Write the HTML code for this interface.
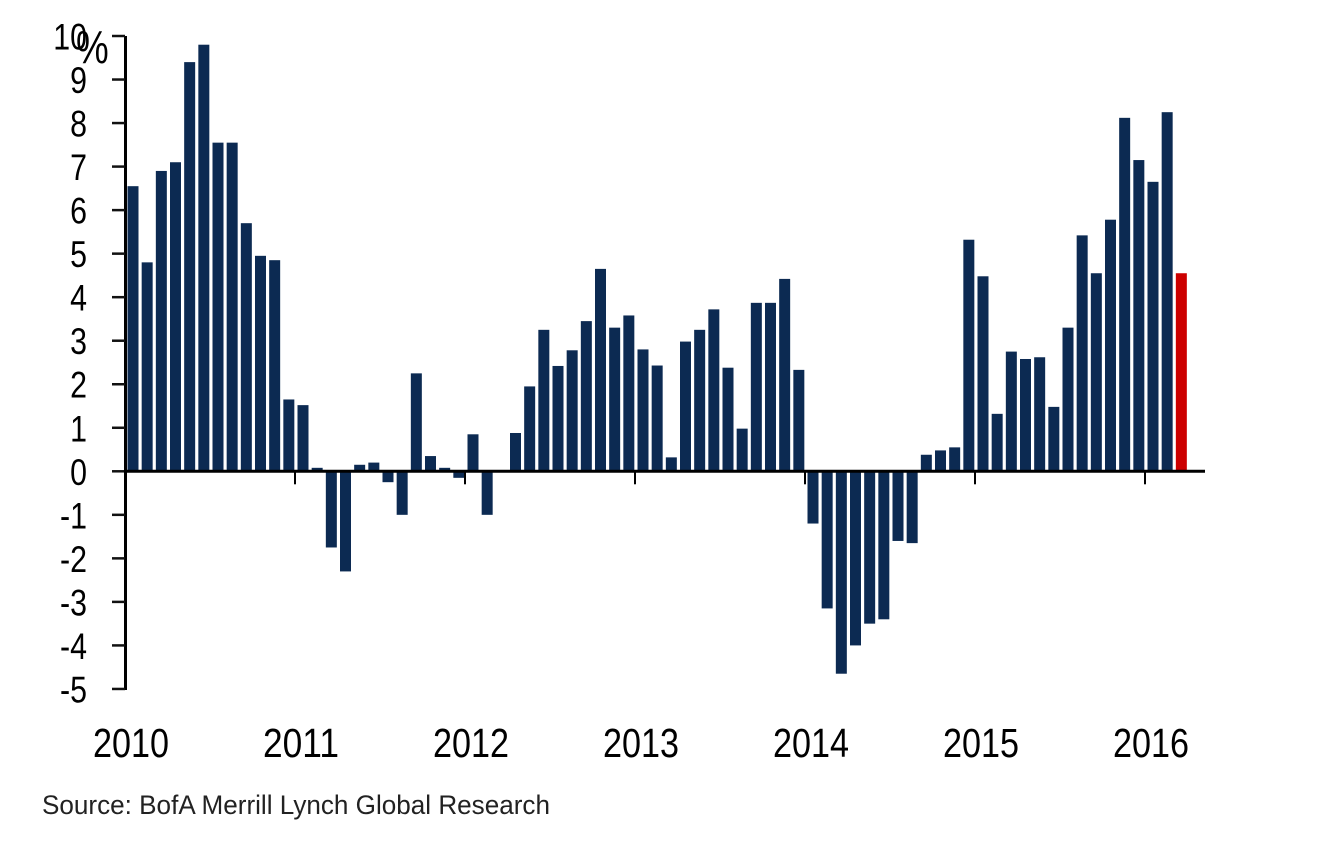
<!DOCTYPE html>
<html><head><meta charset="utf-8"><style>
html,body{margin:0;padding:0;background:#fff;width:1336px;height:848px;overflow:hidden}
svg text{font-family:"Liberation Sans",sans-serif}
</style></head><body>
<svg id="chart" width="1336" height="848">
<g id="bars"></g>
<g id="axes"></g>
<text x="42" y="814" font-size="27" fill="#222" textLength="508" lengthAdjust="spacingAndGlyphs">Source: BofA Merrill Lynch Global Research</text>
</svg>
<script>
const values=[6.55,4.8,6.9,7.1,9.4,9.8,7.55,7.55,5.7,4.95,4.85,1.65,
1.52,0.08,-1.75,-2.3,0.15,0.2,-0.25,-1.0,2.25,0.35,0.08,-0.15,
0.85,-1.0,0,0.88,1.95,3.25,2.42,2.78,3.45,4.65,3.3,3.58,
2.8,2.43,0.32,2.98,3.25,3.72,2.38,0.98,3.87,3.87,4.42,2.33,
-1.2,-3.15,-4.65,-4.0,-3.5,-3.4,-1.6,-1.65,0.38,0.48,0.55,5.32,
4.48,1.32,2.75,2.58,2.62,1.48,3.3,5.42,4.55,5.78,8.12,7.15,
6.65,8.25,4.55];
const yTicks=[10,9,8,7,6,5,4,3,2,1,0,-1,-2,-3,-4,-5];
const yearLabels=["2010","2011","2012","2013","2014","2015","2016"];
const NS="http://www.w3.org/2000/svg";
const y0=471.3, pxPerUnit=43.53, x0=126, pxPerMonth=170/12;
function yScale(v){return y0-v*pxPerUnit;}
function xScale(i){return x0+i*pxPerMonth;}
function mk(tag,attrs,parent){const e=document.createElementNS(NS,tag);for(const k in attrs)e.setAttribute(k,attrs[k]);parent.appendChild(e);return e;}
const bars=document.getElementById('bars'), axes=document.getElementById('axes');
values.forEach((v,i)=>{
  const top=Math.min(yScale(v),y0), h=Math.abs(yScale(v)-y0);
  const r=mk('rect',{x:xScale(i)+1.5,y:top,width:11,height:Math.max(h,0.01),fill:i===values.length-1?'#cc0000':'#0c2a52'},bars);
  
  
});
const ya=mk('line',{x1:125.5,y1:36,x2:125.5,y2:yScale(-5)+1,stroke:'#000','stroke-width':3},axes);


yTicks.forEach(t=>{
  const y=yScale(t);
  mk('line',{x1:112,y1:y,x2:125,y2:y,stroke:'#111','stroke-width':2.5},axes);
  const tx=mk('text',{x:0,y:0,'font-size':37,'text-anchor':'end',fill:'#000',transform:'translate(87,'+(y+13.5)+') scale(0.82,1)'},axes);
  tx.textContent=String(t);
  
  
});
const pct=mk('text',{x:0,y:0,'font-size':46,fill:'#000',transform:'translate(76,63) scale(0.8,1)'},axes);
pct.textContent='%';


const xa=mk('line',{x1:124,y1:y0,x2:1205,y2:y0,stroke:'#000','stroke-width':3},axes);


yearLabels.forEach((l,k)=>{
  const x=xScale(k*12)-1;
  if(k>0) mk('line',{x1:x,y1:y0,x2:x,y2:y0+13,stroke:'#000','stroke-width':2},axes);
  const tx=mk('text',{x:x+6,y:757,'font-size':41,'text-anchor':'middle',fill:'#000',textLength:76,lengthAdjust:'spacingAndGlyphs'},axes);
  tx.textContent=l;
  
  
});
</script>
</body></html>
